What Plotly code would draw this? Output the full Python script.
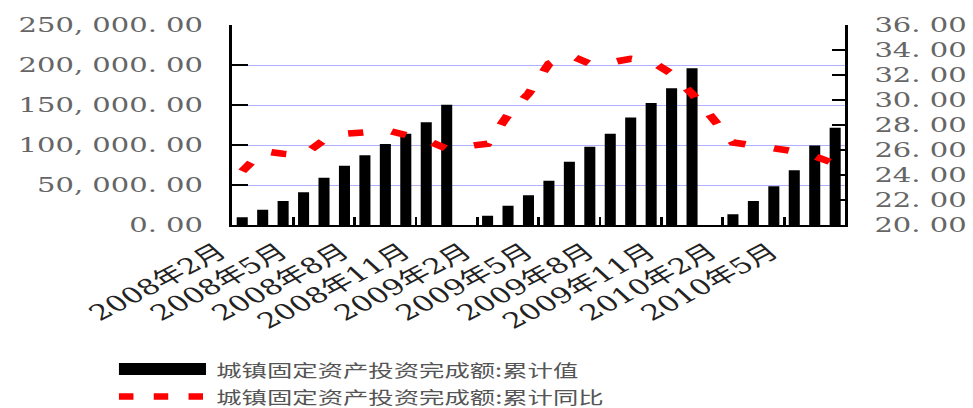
import plotly.graph_objects as go

# Monthly categories (Jan figures are merged into Feb, so Jan slots stay empty)
months = [
    "2008年2月", "2008年3月", "2008年4月", "2008年5月", "2008年6月", "2008年7月",
    "2008年8月", "2008年9月", "2008年10月", "2008年11月", "2008年12月",
    "2009年1月", "2009年2月", "2009年3月", "2009年4月", "2009年5月", "2009年6月",
    "2009年7月", "2009年8月", "2009年9月", "2009年10月", "2009年11月", "2009年12月",
    "2010年1月", "2010年2月", "2010年3月", "2010年4月", "2010年5月", "2010年6月",
    "2010年7月",
]

# Cumulative urban fixed-asset investment (亿元)
fai_cum = [
    9600, 19200, 30000, 40800, 59200, 74200, 87100, 101300, 114200, 128300, 150400,
    None,
    11600, 24200, 37100, 55400, 79200, 97900, 114200, 134500, 152500, 170800, 196000,
    None,
    13300, 30000, 48300, 68300, 99400, 121700,
]

# Cumulative year-on-year growth (%)
fai_yoy = [
    24.3, 25.9, 25.7, 25.6, 26.8, 27.3, 27.4, 27.6, 27.2, 26.8, 26.1,
    None,
    26.5, 28.8, 30.5, 32.9, 33.6, 32.9, 33.0, 33.3, 33.1, 32.1, 30.5,
    None,
    26.6, 26.4, 26.1, 25.9, 25.5, 24.9,
]

left_ticks = [0, 50000, 100000, 150000, 200000, 250000]
left_tick_text = ["0. 00", "50, 000. 00", "100, 000. 00", "150, 000. 00",
                  "200, 000. 00", "250, 000. 00"]
right_ticks = [20, 22, 24, 26, 28, 30, 32, 34, 36]
right_tick_text = ["20. 00", "22. 00", "24. 00", "26. 00", "28. 00",
                   "30. 00", "32. 00", "34. 00", "36. 00"]

bar_name = "城镇固定资产投资完成额:累计值"
line_name = "城镇固定资产投资完成额:累计同比"

# The chart is laid out narrow and widened horizontally on the page
PAGE_W, PAGE_H = 973, 408
BASE_W = 671
STRETCH = PAGE_W / BASE_W
PLOT_L, PLOT_R, PLOT_T, PLOT_B = 232, 845, 25, 225

NUM_FONT = "DejaVu Serif, Noto Sans CJK SC"
CJK_FONT = "Noto Sans CJK SC"


def px_x(x):
    return (x - PLOT_L) / (PLOT_R - PLOT_L)


def px_y(y):
    return (PLOT_B - y) / (PLOT_B - PLOT_T)


fig = go.Figure()
fig.add_trace(go.Bar(
    x=months, y=fai_cum, name=bar_name,
    marker=dict(color="#000000", line=dict(width=0)),
    yaxis="y",
))
fig.add_trace(go.Scatter(
    x=months, y=fai_yoy, name=line_name, mode="lines",
    line=dict(color="#ff0000", width=6.5, dash="10.5px,20px"),
    connectgaps=True, yaxis="y2",
))

# Hand-drawn legend below the chart
fig.add_shape(type="rect", xref="paper", yref="paper",
              x0=px_x(119), x1=px_x(206), y0=px_y(363), y1=px_y(375),
              fillcolor="#000000", line=dict(width=0))
fig.add_shape(type="line", xref="paper", yref="paper",
              x0=px_x(119), x1=px_x(203), y0=px_y(396.5), y1=px_y(396.5),
              line=dict(color="#ff0000", width=6.5, dash="10px,14px"))
for label, yc in ((bar_name, 369), (line_name, 396.5)):
    fig.add_annotation(text=label, xref="paper", yref="paper",
                       x=px_x(213), y=px_y(yc), xanchor="left", yanchor="middle",
                       showarrow=False,
                       font=dict(family=CJK_FONT, size=17.5, color="#555555"))

fig.update_layout(
    width=BASE_W, height=PAGE_H,
    margin=dict(l=PLOT_L / STRETCH, r=(PAGE_W - PLOT_R) / STRETCH,
                t=PLOT_T, b=PAGE_H - PLOT_B, pad=0, autoexpand=False),
    paper_bgcolor="#ffffff", plot_bgcolor="#ffffff",
    showlegend=False, bargap=0.46,
    xaxis=dict(
        type="category", range=[-0.5, len(months) - 0.5],
        showline=True, linecolor="#000000", linewidth=2,
        ticks="inside", ticklen=8, tickwidth=2.3, tickcolor="#000000",
        tickson="boundaries", dtick=3, tick0=0, tickangle=-37,
        ticklabelshift=-16, ticklabelstandoff=4,
        tickfont=dict(family=NUM_FONT, size=21.5, color="#222222"),
        showgrid=False, automargin=False,
    ),
    yaxis=dict(
        range=[0, 250000], tickvals=left_ticks, ticktext=left_tick_text,
        showline=True, linecolor="#000000", linewidth=2,
        ticks="inside", ticklen=11, tickwidth=2, tickcolor="#000000",
        ticklabelstandoff=14,
        tickfont=dict(family=NUM_FONT, size=20, color="#666666"),
        showgrid=True, gridcolor="#b0b0ff", gridwidth=1,
        zeroline=False, automargin=False,
    ),
    yaxis2=dict(
        overlaying="y", side="right",
        range=[20, 36], tickvals=right_ticks, ticktext=right_tick_text,
        showline=True, linecolor="#000000", linewidth=2,
        ticks="inside", ticklen=9, tickwidth=2, tickcolor="#000000",
        ticklabelstandoff=14,
        tickfont=dict(family=NUM_FONT, size=20, color="#666666"),
        showgrid=False, zeroline=False, automargin=False,
    ),
)

post_js = (
    "document.body.style.margin='0';"
    "var gd=document.getElementById('{plot_id}');"
    "gd.style.transformOrigin='0 0';"
    "gd.style.transform='scaleX(%.5f)';" % STRETCH
)

fig.write_html("out.html", config={"displayModeBar": False}, post_script=post_js)
